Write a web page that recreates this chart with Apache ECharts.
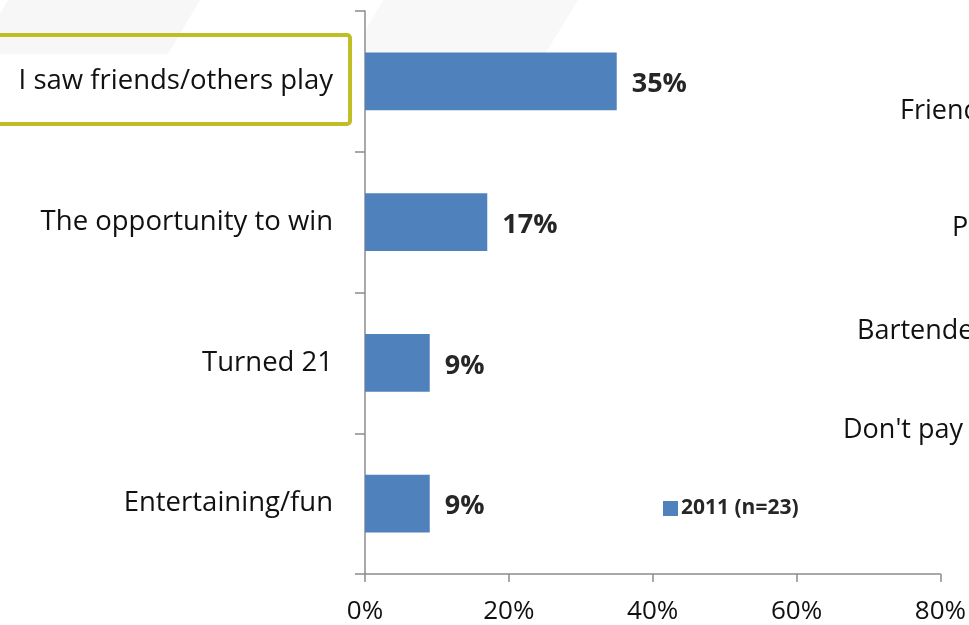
<!DOCTYPE html>
<html>
<head>
<meta charset="utf-8">
<script src="https://cdn.jsdelivr.net/npm/echarts@6/dist/echarts.min.js"></script>
<style>
  html, body { margin: 0; padding: 0; background: #fff; }
  #chart { width: 969px; height: 625px; }
</style>
</head>
<body>
<div id="chart"></div>
<script>
// Reasons for starting to play, share of respondents
const categories = ['I saw friends/others play', 'The opportunity to win', 'Turned 21', 'Entertaining/fun'];
const values2011 = [35, 17, 9, 9];
const seriesName = '2011 (n=23)';
const xTicks = [0, 20, 40, 60, 80];
// Neighbouring panel's category labels, cut off at the right edge
const sideLabels = ['Friends', 'P', 'Bartender', "Don't pay"];

const FONT = '"Open Sans", "Noto Sans", sans-serif';
const BLUE = '#4f81bd';

const chart = echarts.init(document.getElementById('chart'), null, { renderer: 'canvas' });

const sidePos = [[900, 111], [952, 228], [857, 331], [843, 430]];

chart.setOption({
  backgroundColor: '#ffffff',
  animation: false,
  grid: { left: 365, right: 28, top: 11, bottom: 49, containLabel: false },
  legend: {
    data: [seriesName],
    left: 658,
    top: 493,
    icon: 'rect',
    itemWidth: 15,
    itemHeight: 15,
    itemGap: 6,
    textStyle: { fontFamily: FONT, fontSize: 21, fontWeight: 'bold', color: '#262626', padding: [0, 0, 0, -2] }
  },
  xAxis: {
    type: 'value',
    min: xTicks[0],
    max: xTicks[xTicks.length - 1],
    interval: 20,
    axisLine: { show: true, lineStyle: { color: '#8c8c8c', width: 1.5 } },
    axisTick: { show: true, length: 8, lineStyle: { color: '#8c8c8c', width: 1.5 } },
    splitLine: { show: false },
    axisLabel: {
      formatter: '{value}%',
      margin: 25,
      fontFamily: FONT,
      fontSize: 26,
      color: '#111'
    }
  },
  yAxis: {
    type: 'category',
    inverse: true,
    data: categories,
    axisLine: { show: true, lineStyle: { color: '#8c8c8c', width: 1.5 } },
    axisTick: { show: true, length: 10, alignWithLabel: false, lineStyle: { color: '#8c8c8c', width: 1.5 } },
    axisLabel: {
      margin: 32,
      fontFamily: FONT,
      fontSize: 27.5,
      color: '#111',
      padding: [4, 0, 0, 0]
    }
  },
  series: [{
    name: seriesName,
    type: 'bar',
    data: values2011,
    barCategoryGap: '59%',
    itemStyle: { color: BLUE },
    label: {
      show: true,
      position: 'right',
      distance: 15,
      formatter: '{c}%',
      fontFamily: FONT,
      fontSize: 27,
      fontWeight: 'bold',
      color: '#262626',
      offset: [0, 3]
    }
  }],
  graphic: [
    // faint background watermark bands
    { type: 'polygon', z: -10, silent: true,
      shape: { points: [[8, 0], [200, 0], [168, 54], [0, 54], [0, 14]] },
      style: { fill: '#f7f7f7' } },
    { type: 'polygon', z: -10, silent: true,
      shape: { points: [[383, 0], [578, 0], [545, 54], [366, 54], [366, 30]] },
      style: { fill: '#f8f8f8' } },
    // highlight frame around the leading reason
    { type: 'rect', z: -5, silent: true,
      shape: { x: -10, y: 35, width: 360, height: 89, r: 3 },
      style: { fill: 'none', stroke: '#bfbe26', lineWidth: 4 } }
  ].concat(sideLabels.map((t, i) => ({
    type: 'text', z: 5, silent: true,
    x: sidePos[i][0], y: sidePos[i][1],
    style: { text: t, font: '27px ' + FONT, fill: '#111', textVerticalAlign: 'middle' }
  })))
});
</script>
</body>
</html>
